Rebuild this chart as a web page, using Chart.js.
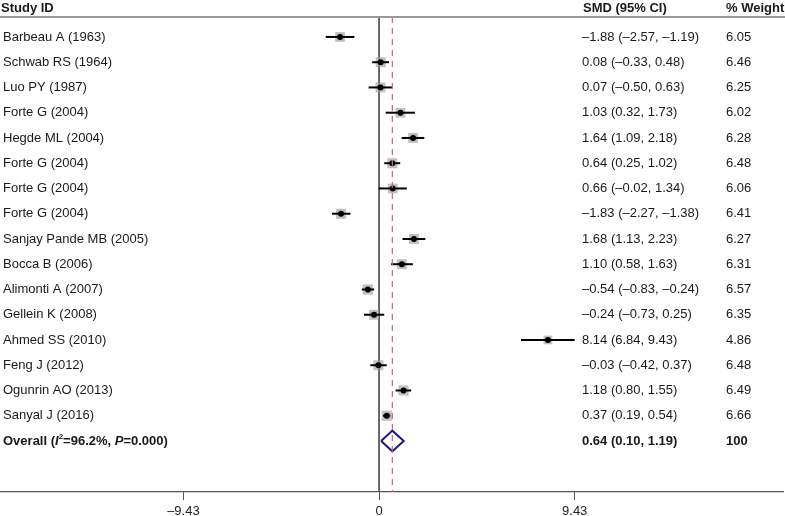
<!DOCTYPE html>
<html>
<head>
<meta charset="utf-8">
<script src="https://cdn.jsdelivr.net/npm/chart.js@4/dist/chart.umd.min.js"></script>
<style>
html,body{margin:0;padding:0;background:#fff;}
canvas{display:block;}
</style>
</head>
<body>
<canvas id="c" width="785" height="516"></canvas>
<script>
const studies = ["Barbeau A (1963)","Schwab RS (1964)","Luo PY (1987)","Forte G (2004)","Hegde ML (2004)","Forte G (2004)","Forte G (2004)","Forte G (2004)","Sanjay Pande MB (2005)","Bocca B (2006)","Alimonti A (2007)","Gellein K (2008)","Ahmed SS (2010)","Feng J (2012)","Ogunrin AO (2013)","Sanyal J (2016)"];
const smd    = [-1.88, 0.08, 0.07, 1.03, 1.64, 0.64, 0.66, -1.83, 1.68, 1.10, -0.54, -0.24, 8.14, -0.03, 1.18, 0.37];
const ciLow  = [-2.57,-0.33,-0.50, 0.32, 1.09, 0.25,-0.02, -2.27, 1.13, 0.58, -0.83, -0.73, 6.84, -0.42, 0.80, 0.19];
const ciHigh = [-1.19, 0.48, 0.63, 1.73, 2.18, 1.02, 1.34, -1.38, 2.23, 1.63, -0.24,  0.25, 9.43,  0.37, 1.55, 0.54];
const weights = [6.05, 6.46, 6.25, 6.02, 6.28, 6.48, 6.06, 6.41, 6.27, 6.31, 6.57, 6.35, 4.86, 6.48, 6.49, 6.66];
const overallSMD = 0.64, overallLow = 0.10, overallHigh = 1.19, overallWeight = 100;
const xTicks = [-9.43, 0, 9.43];
const headers = ["Study ID", "SMD (95% CI)", "% Weight"];

const FONT = '"Liberation Sans", Arial, sans-serif';
const nRows = studies.length; // overall row index = nRows
const yMin = -0.79, yMax = nRows + 2.02;

function fmt(v){ const s = Math.abs(v).toFixed(2); return (v < 0 ? '\u2013' : '') + s; }

const datasets = [];
// reference line at 0
datasets.push({type:'line', data:[{x:0,y:yMin},{x:0,y:yMax}], borderColor:'#555', borderWidth:1, pointRadius:0, order:10});
// dashed overall line
datasets.push({type:'line', data:[{x:overallSMD,y:yMin},{x:overallSMD,y:yMax}], borderColor:'#b0707f', borderWidth:1.2, borderDash:[6,5], pointRadius:0, order:1});
// grey weight squares
datasets.push({type:'scatter', data: smd.map((v,i)=>({x:v,y:i})), pointStyle:'rect',
  pointRadius: weights.map(w=>Math.sqrt(w)*2.8), backgroundColor:'rgba(160,160,160,0.65)', borderWidth:0, order:5});
// CI lines
smd.forEach((v,i)=>{
  datasets.push({type:'line', data:[{x:ciLow[i],y:i},{x:ciHigh[i],y:i}], borderColor:'#000', borderWidth:2, pointRadius:0, order:4});
});
// point estimates
datasets.push({type:'scatter', data: smd.map((v,i)=>({x:v,y:i})), pointStyle:'circle', pointRadius:3, backgroundColor:'#000', borderWidth:0, order:3});
// overall diamond
const oy = nRows, dh = 0.41;
datasets.push({type:'line', data:[{x:overallLow,y:oy},{x:overallSMD,y:oy-dh},{x:overallHigh,y:oy},{x:overallSMD,y:oy+dh},{x:overallLow,y:oy}],
  borderColor:'#1b1b78', borderWidth:2, pointRadius:0, fill:false, order:2});

const textPlugin = {
  id:'forestText',
  beforeDraw(chart){
    const ctx = chart.ctx;
    ctx.save(); ctx.fillStyle='#fff'; ctx.fillRect(0,0,chart.width,chart.height); ctx.restore();
  },
  afterDraw(chart){
    const ctx = chart.ctx, ys = chart.scales.y, area = chart.chartArea;
    ctx.save();
    // header rule
    ctx.strokeStyle = '#999'; ctx.lineWidth = 2;
    ctx.beginPath(); ctx.moveTo(0, area.top); ctx.lineTo(chart.width, area.top); ctx.stroke();
    ctx.fillStyle = '#1a1a1a';
    ctx.textBaseline = 'middle';
    ctx.font = 'bold 13px ' + FONT;
    ctx.fillText(headers[0], 1, 8);
    ctx.fillText(headers[1], 583, 8);
    ctx.fillText(headers[2], 726, 8);
    ctx.font = '13px ' + FONT;
    studies.forEach((s,i)=>{
      const y = ys.getPixelForValue(i);
      ctx.fillText(s, 3, y);
      ctx.fillText(fmt(smd[i]) + ' (' + fmt(ciLow[i]) + ', ' + fmt(ciHigh[i]) + ')', 582, y);
      ctx.fillText(weights[i].toFixed(2), 726, y);
    });
    // overall row
    const y = ys.getPixelForValue(nRows);
    let x = 3;
    const parts = [
      ['Overall (', 'bold 13px', 0],
      ['I', 'italic bold 13px', 0],
      ['2', 'bold 8px', -4],
      ['=96.2%, ', 'bold 13px', 0],
      ['P', 'italic bold 13px', 0],
      ['=0.000)', 'bold 13px', 0]
    ];
    parts.forEach(p=>{
      ctx.font = p[1] + ' ' + FONT;
      ctx.fillText(p[0], x, y + p[2]);
      x += ctx.measureText(p[0]).width;
    });
    ctx.font = 'bold 13px ' + FONT;
    ctx.fillText(fmt(overallSMD) + ' (' + fmt(overallLow) + ', ' + fmt(overallHigh) + ')', 582, y);
    ctx.fillText(String(overallWeight), 726, y);
    ctx.restore();
  }
};

new Chart(document.getElementById('c'), {
  type:'scatter',
  data:{datasets},
  options:{
    responsive:false, animation:false, devicePixelRatio:1,
    layout:{autoPadding:false, padding:{top:17, left:0, right:2, bottom:0}},
    plugins:{legend:{display:false}, tooltip:{enabled:false}},
    scales:{
      x:{type:'linear', position:'bottom', min:-18.27, max:19.47,
        afterBuildTicks(scale){ scale.ticks = xTicks.map(v=>({value:v})); },
        afterFit(scale){ scale.paddingLeft = 0; scale.paddingRight = 0; scale.height = 24; },
        ticks:{autoSkip:false, maxRotation:0, padding:4, color:'#222', font:{family:FONT, size:13},
          callback:(v)=> v===0 ? '0' : fmt(v)},
        grid:{display:true, drawOnChartArea:false, drawTicks:true, tickLength:8, color:'#555', lineWidth:1},
        border:{display:true, color:'#555', width:1.2}
      },
      y:{type:'linear', display:false, min:yMin, max:yMax, reverse:true}
    }
  },
  plugins:[textPlugin]
});
</script>
</body>
</html>
